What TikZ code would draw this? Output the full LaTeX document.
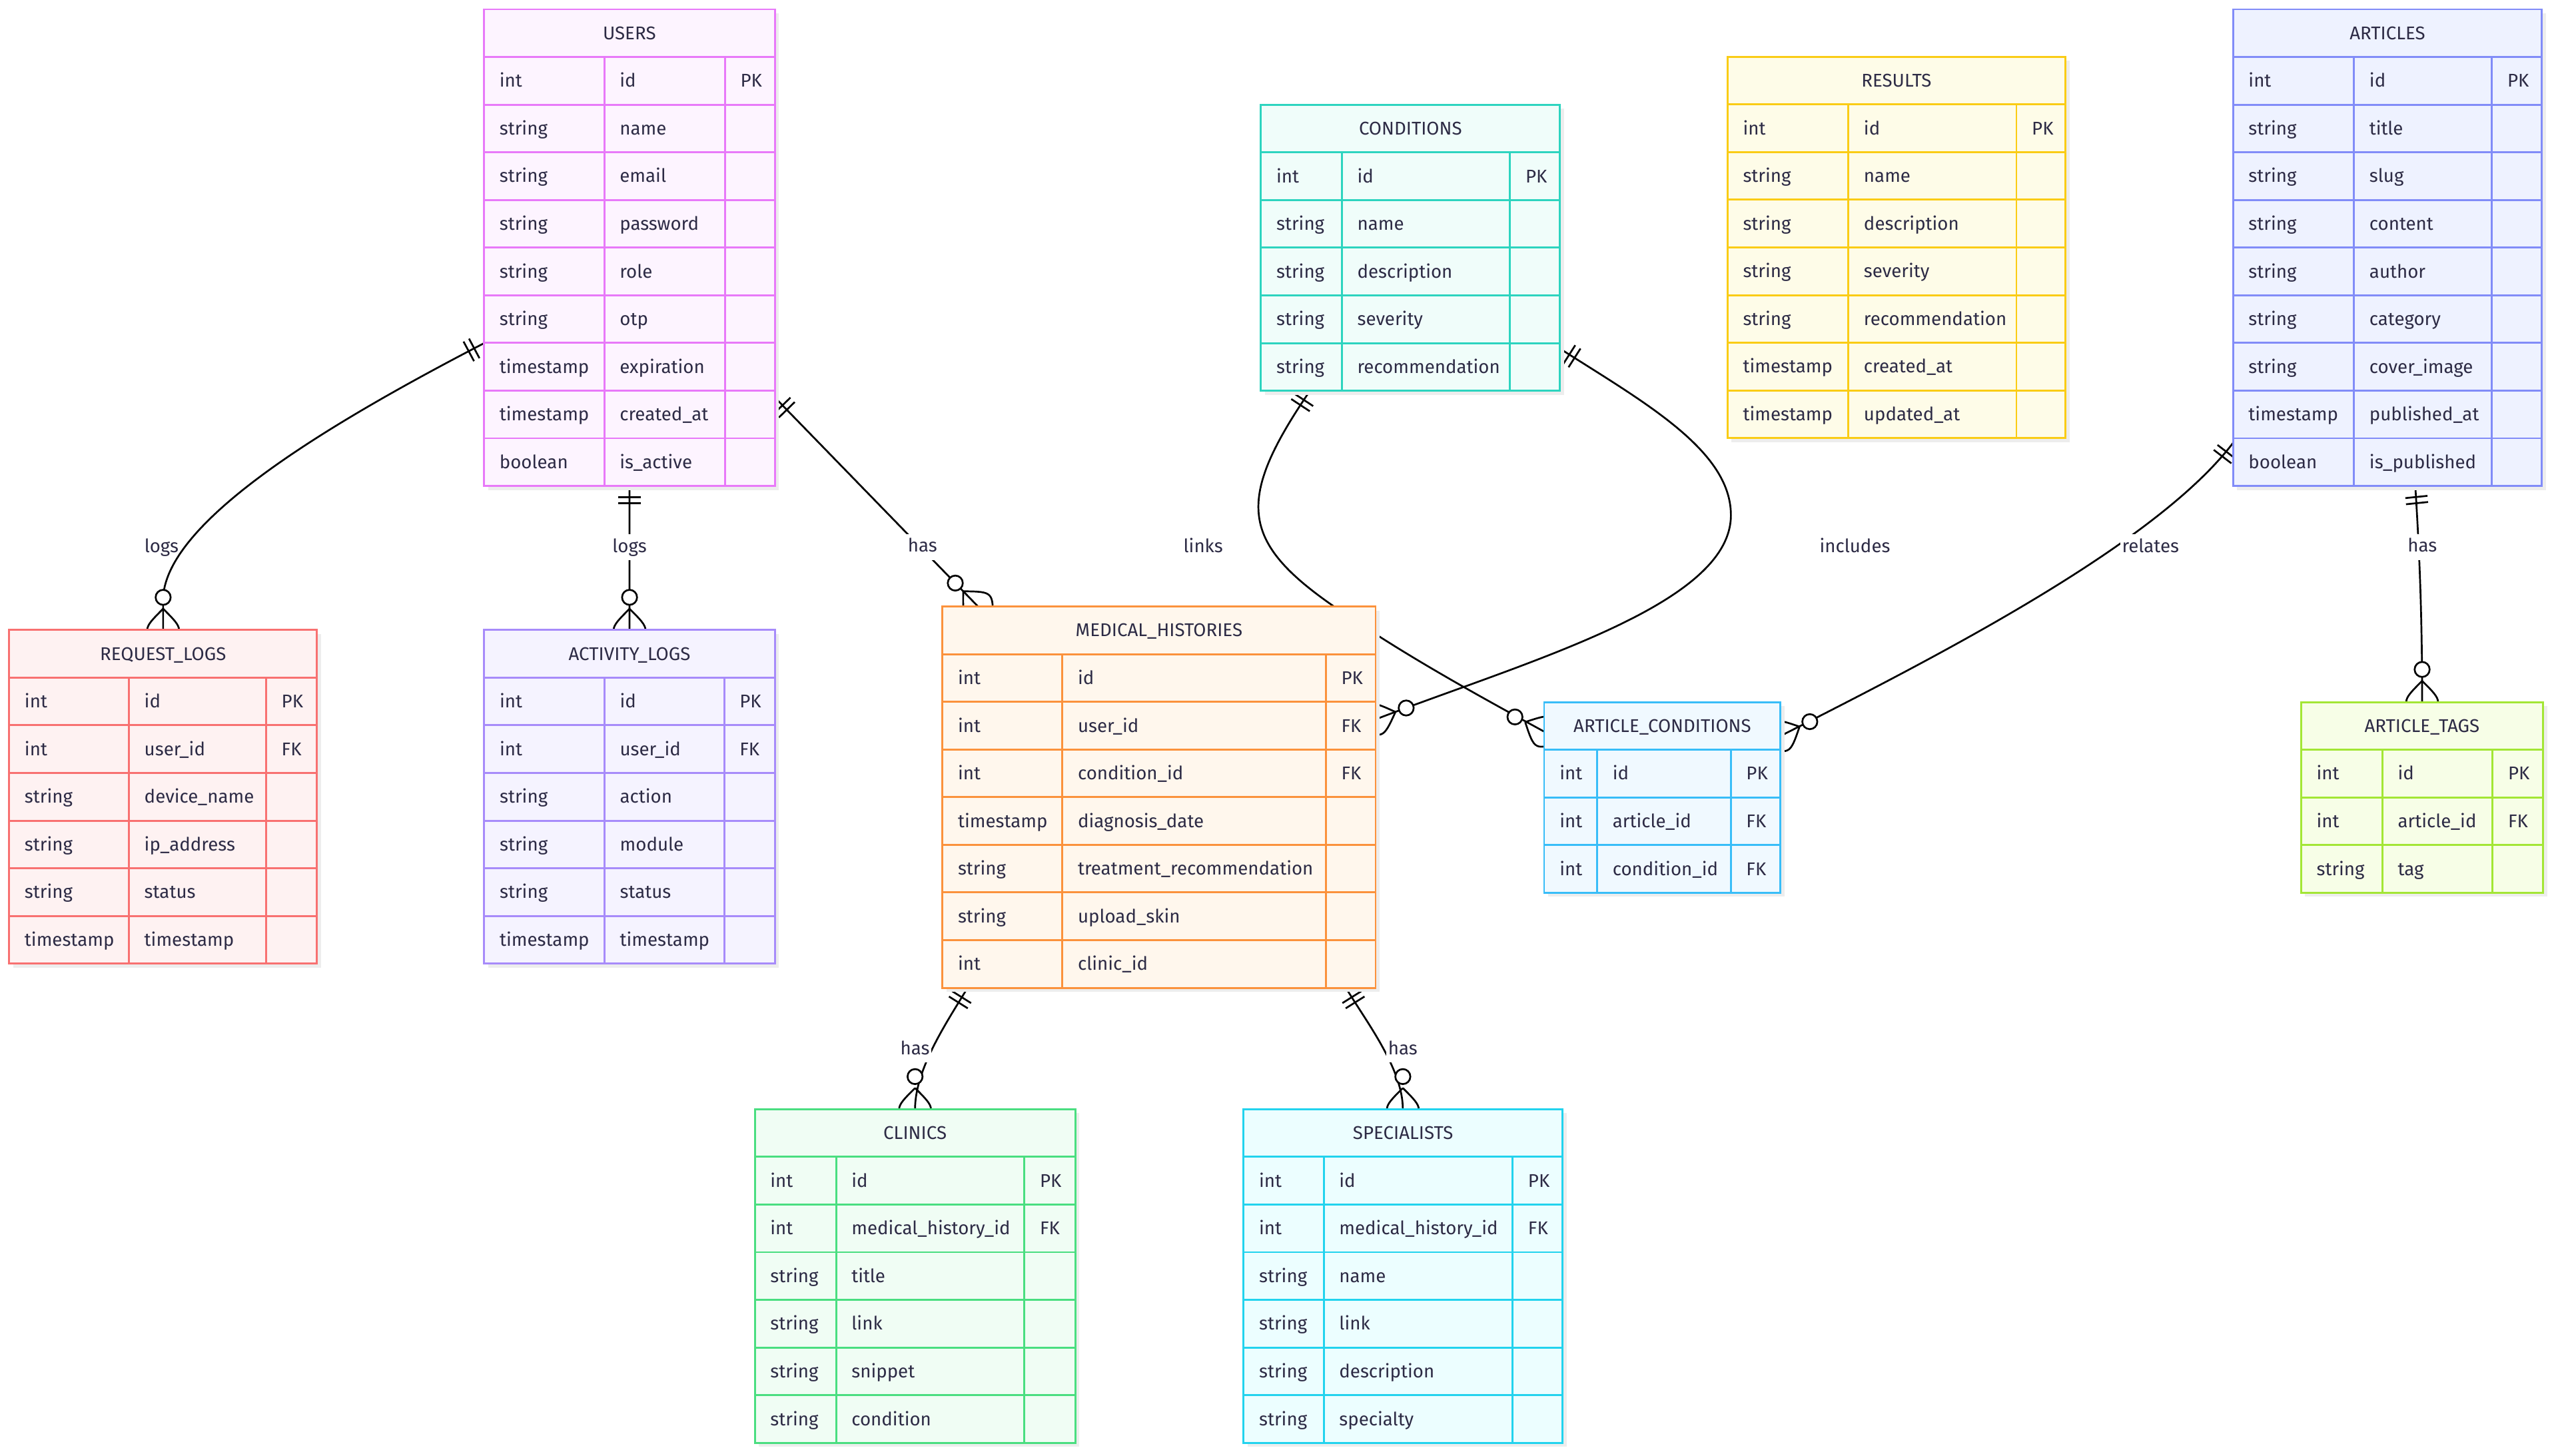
\documentclass[tikz,border=0pt]{standalone}
\usepackage{fontspec}
\setmainfont{Fira Sans}
\usetikzlibrary{calc}
\pgfdeclarelayer{bg}
\pgfdeclarelayer{edges}
\pgfsetlayers{bg,edges,main}
\definecolor{txt}{HTML}{2D2B45}
\definecolor{shad}{HTML}{EDEDED}
\definecolor{usersB}{HTML}{E879F9}\definecolor{usersF}{HTML}{FDF4FF}
\definecolor{requestB}{HTML}{F87171}\definecolor{requestF}{HTML}{FEF2F2}
\definecolor{activityB}{HTML}{A78BFA}\definecolor{activityF}{HTML}{F5F3FF}
\definecolor{medB}{HTML}{FB923C}\definecolor{medF}{HTML}{FFF7ED}
\definecolor{condB}{HTML}{2DD4BF}\definecolor{condF}{HTML}{F0FDFA}
\definecolor{resultsB}{HTML}{FACC15}\definecolor{resultsF}{HTML}{FEFCE8}
\definecolor{articlesB}{HTML}{818CF8}\definecolor{articlesF}{HTML}{EEF2FF}
\definecolor{acB}{HTML}{38BDF8}\definecolor{acF}{HTML}{F0F9FF}
\definecolor{tagsB}{HTML}{A3E635}\definecolor{tagsF}{HTML}{F7FEE7}
\definecolor{clinicsB}{HTML}{4ADE80}\definecolor{clinicsF}{HTML}{F0FDF4}
\definecolor{specB}{HTML}{22D3EE}\definecolor{specF}{HTML}{ECFEFF}
\newcommand\erfont{\fontsize{11.3}{13}\selectfont}
\tikzset{
  cell/.style={font=\erfont, text=txt, inner sep=0pt, anchor=base west},
  hdr/.style={font=\erfont, text=txt, inner sep=0pt, anchor=base},
  conn/.style={draw=black, line width=1.1pt},
  lbl/.style={font=\erfont, text=txt, fill=white, inner xsep=1pt, inner ysep=2.5pt,
              text height=8.5pt, text depth=2.5pt, anchor=base},
}
\newcommand\erh{29.22}
\newcommand\ertable[8]{%
  \foreach \ta/\tb/\tc [count=\ti] in {#8} {\xdef\ertn{\ti}}%
  \pgfmathsetmacro\ertb{#5+(\ertn+1)*\erh}%
  \pgfmathsetmacro\ertw{#4-#3}%
  \pgfmathsetmacro\erth{\ertb-#5}%
  \fill[shad] ({#3+2.5},{#5+2.5}) rectangle ({#4+2.5},{\ertb+2.5});
  \node[draw=#1B, fill=#1F, line width=1.2pt, inner sep=0pt, outer sep=0pt,
        anchor=north west, minimum width=\ertw pt, minimum height=\erth pt] (#1) at (#3,#5) {};
  \node[hdr] (#1-title) at ({(#3+#4)/2},{#5+0.5*\erh+3.9}) {#2};
  \draw[draw=#1B, line width=1.2pt] (#6,{#5+\erh}) -- (#6,\ertb) (#7,{#5+\erh}) -- (#7,\ertb);
  \foreach \ta/\tb/\tc [count=\ti] in {#8} {
    \draw[draw=#1B, line width=1.2pt] (#3,{#5+\ti*\erh}) -- (#4,{#5+\ti*\erh});
    \node[cell] (#1-\ti-a) at ({#3+9.3},{#5+(\ti+0.5)*\erh+3.9}) {\ta};
    \node[cell] (#1-\ti-b) at ({#6+9.3},{#5+(\ti+0.5)*\erh+3.9}) {\tb};
    \node[cell] (#1-\ti-c) at ({#7+9.3},{#5+(\ti+0.5)*\erh+3.9}) {\tc};
  }%
}
% zero-or-many marker: #1 end point on table edge, #2 point outward along the line
\newcommand\zeromany[2]{%
  \draw[conn] ($(#1)!13pt!(#2)$) .. controls ($(#1)!13pt!90:(#2)$) .. ($(#1)!-13pt!(#2)$);
  \draw[conn] ($(#1)!13pt!(#2)$) .. controls ($(#1)!13pt!-90:(#2)$) .. ($(#1)!-13pt!(#2)$);
  \draw[conn, fill=white] ($(#1)!20pt!(#2)$) circle[radius=4.6pt];
}
% exactly-one marker
\newcommand\onlyone[2]{%
  \coordinate (ooa) at ($(#1)!6.8pt!(#2)$);
  \coordinate (oob) at ($(#1)!10.6pt!(#2)$);
  \draw[conn] ($(ooa)!6.8pt!90:(#2)$) -- ($(ooa)!6.8pt!-90:(#2)$);
  \draw[conn] ($(oob)!6.8pt!90:(#2)$) -- ($(oob)!6.8pt!-90:(#2)$);
}
\begin{document}
\begin{tikzpicture}[x=1pt,y=-1pt]
\begin{pgfonlayer}{bg}
\fill[white] (0,0) rectangle (1568,892.6);
\end{pgfonlayer}
\useasboundingbox (0,0) rectangle (1568,892.6);

\ertable{users}{USERS}{296.7}{474.9}{5.7}{370.4}{444.4}{int/id/PK, string/name/{}, string/email/{}, string/password/{}, string/role/{}, string/otp/{}, timestamp/expiration/{}, timestamp/created\_at/{}, boolean/is\_active/{}}
\ertable{request}{REQUEST\_LOGS}{5.6}{194.3}{386.2}{79}{163.1}{int/id/PK, int/user\_id/FK, string/device\_name/{}, string/ip\_address/{}, string/status/{}, timestamp/timestamp/{}}
\ertable{activity}{ACTIVITY\_LOGS}{296.8}{474.9}{386.2}{370.5}{443.9}{int/id/PK, int/user\_id/FK, string/action/{}, string/module/{}, string/status/{}, timestamp/timestamp/{}}
\ertable{med}{MEDICAL\_HISTORIES}{577.7}{843.2}{371.8}{651.2}{812.7}{int/id/PK, int/user\_id/FK, int/condition\_id/FK, timestamp/diagnosis\_date/{}, string/treatment\_recommendation/{}, string/upload\_skin/{}, int/clinic\_id/{}}
\ertable{cond}{CONDITIONS}{772.9}{956.2}{64.2}{822.5}{925.6}{int/id/PK, string/name/{}, string/description/{}, string/severity/{}, string/recommendation/{}}
\ertable{results}{RESULTS}{1058.9}{1266}{34.8}{1133}{1236}{int/id/PK, string/name/{}, string/description/{}, string/severity/{}, string/recommendation/{}, timestamp/created\_at/{}, timestamp/updated\_at/{}}
\ertable{articles}{ARTICLES}{1368.8}{1558.1}{5.7}{1442.9}{1527.5}{int/id/PK, string/title/{}, string/slug/{}, string/content/{}, string/author/{}, string/category/{}, string/cover\_image/{}, timestamp/published\_at/{}, boolean/is\_published/{}}
\ertable{ac}{ARTICLE\_CONDITIONS}{946.5}{1091.4}{430.4}{979}{1060.9}{int/id/PK, int/article\_id/FK, int/condition\_id/FK}
\ertable{tags}{ARTICLE\_TAGS}{1410.5}{1558.8}{430.4}{1460.3}{1527.9}{int/id/PK, int/article\_id/FK, string/tag/{}}
\ertable{clinics}{CLINICS}{462.7}{659.1}{680}{512.5}{627.9}{int/id/PK, int/medical\_history\_id/FK, string/title/{}, string/link/{}, string/snippet/{}, string/condition/{}}
\ertable{spec}{SPECIALISTS}{762.3}{957.7}{680}{811.4}{927.2}{int/id/PK, int/medical\_history\_id/FK, string/name/{}, string/link/{}, string/description/{}, string/specialty/{}}

% connector end points
\coordinate (c1s) at ($(users.north west)+(0,204.7)$);
\coordinate (c1e) at ($(request.north west)+(94.4,0)$);
\coordinate (c2s) at ($(users.south west)+(89.2,0)$);
\coordinate (c2e) at ($(activity.north west)+(89.1,0)$);
\coordinate (c3s) at ($(users.north east)+(0,237.9)$);
\coordinate (c3e) at ($(med.north west)+(21.8,0)$);
\coordinate (c4s) at ($(cond.south west)+(30.1,0)$);
\coordinate (c4e) at ($(ac.north west)+(0,18.1)$);
\coordinate (c5s) at ($(cond.north east)+(0,149.5)$);
\coordinate (c5e) at ($(med.north east)+(0,69.2)$);
\coordinate (c6s) at ($(articles.north west)+(0,265.8)$);
\coordinate (c6e) at ($(ac.north east)+(0,20.8)$);
\coordinate (c7s) at ($(articles.south west)+(111.7,0)$);
\coordinate (c7e) at ($(tags.north west)+(74.2,0)$);
\coordinate (c8s) at ($(med.south west)+(15.4,0)$);
\coordinate (c8e) at ($(clinics.north west)+(98.2,0)$);
\coordinate (c9s) at ($(med.south west)+(247.3,0)$);
\coordinate (c9e) at ($(spec.north west)+(97.6,0)$);

\begin{pgfonlayer}{edges}
% labels first where the line passes beside them
\node[lbl, fill=none] (l1) at (99,338.5) {logs};
% USERS -> REQUEST_LOGS
\draw[conn] (c1s) .. controls (205,258) and (103,318) .. (100,366) -- (c1e);
\onlyone{c1s}{249.9,235.4}
\zeromany{c1e}{100,366}
% USERS -> ACTIVITY_LOGS
\draw[conn] (c2s) -- (c2e);
\onlyone{c2s}{385.9,320}
\zeromany{c2e}{385.9,366}
% USERS -> MEDICAL_HISTORIES
\draw[conn] (c3s) -- (c3e);
\onlyone{c3s}{c3e}
\zeromany{c3e}{c3s}
% CONDITIONS -> ARTICLE_CONDITIONS
\draw[conn] (c4s) .. controls (757.6,306.1) and (759.9,331.7) .. (817.4,371.6)
  .. controls (860,401) and (900,423) .. (c4e);
\onlyone{c4s}{792.2,255.9}
\zeromany{c4e}{928,439.2}
% CONDITIONS -> MEDICAL_HISTORIES
\draw[conn] (c5s) .. controls (1007.1,246.3) and (1061,275.8) .. (1061,315.8)
  .. controls (1061,370.8) and (937.2,405) .. (c5e);
\onlyone{c5s}{999,241}
\zeromany{c5e}{862.3,433.9}
% ARTICLES -> ARTICLE_CONDITIONS
\draw[conn] (c6s) .. controls (1320.3,335.3) and (1181.2,405.5) .. (c6e);
\onlyone{c6s}{1347.5,299.4}
\zeromany{c6e}{1110,442.1}
% ARTICLES -> ARTICLE_TAGS
\draw[conn] (c7s) .. controls (1482.5,330) and (1484.7,370) .. (c7e);
\onlyone{c7s}{1483.4,326.5}
\zeromany{c7e}{1484.7,410}
% MEDICAL_HISTORIES -> CLINICS
\draw[conn] (c8s) .. controls (581,625.7) and (560.9,655) .. (c8e);
\onlyone{c8s}{582.4,622.6}
\zeromany{c8e}{560.9,659.5}
% MEDICAL_HISTORIES -> SPECIALISTS
\draw[conn] (c9s) .. controls (837,625.7) and (859.9,655) .. (c9e);
\onlyone{c9s}{835.7,622.6}
\zeromany{c9e}{859.9,659.5}
% labels
\node[lbl] (l2) at (385.9,338.5) {logs};
\node[lbl] (l3) at (565.5,338.3) {has};
\node[lbl] (l4) at (737.5,338.5) {links};
\node[lbl] (l5) at (1137,338.5) {includes};
\node[lbl] (l6) at (1318.2,338.5) {relates};
\node[lbl] (l7) at (1484.8,338.3) {has};
\node[lbl] (l8) at (560.9,646.4) {has};
\node[lbl] (l9) at (859.9,646.4) {has};
\end{pgfonlayer}
\end{tikzpicture}
\end{document}
